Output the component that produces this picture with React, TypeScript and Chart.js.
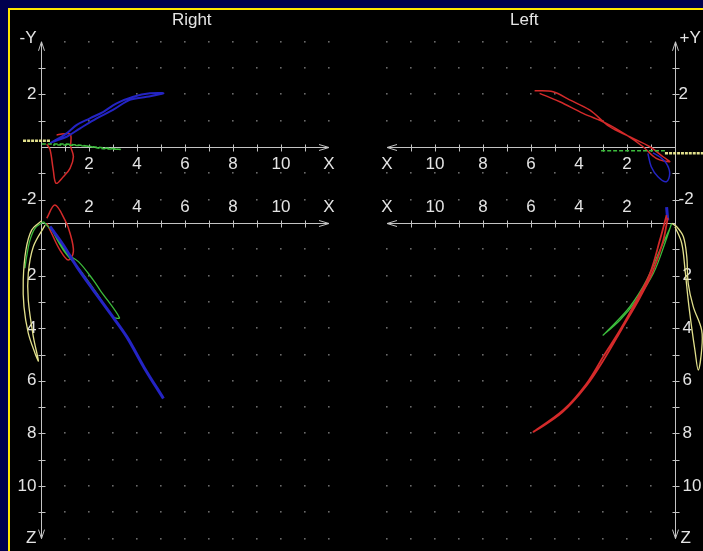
import React, { useEffect, useRef } from "react";
import { Chart, registerables } from "chart.js";

Chart.register(...registerables);

// ---------------- data (sub-plot units) ----------------
// Right side, front view (X horizontal, Y vertical)
const R_XY_BLUE = [[0.38,0.14],[1.07,0.52],[1.49,0.84],[2.04,1.09],[2.6,1.34],[3.15,1.66],[3.85,1.91],[4.54,2.04],[5.1,2.04],[4.4,1.91],[3.7,1.79],[3.0,1.41],[2.32,1.09],[1.63,0.71],[1.07,0.39],[0.51,0.2]];
const R_XY_RED = [[0.65,0.46],[1.21,0.49],[1.24,0.01],[1.35,-0.37],[1.21,-0.81],[0.93,-1.13],[0.63,-1.38],[0.51,-0.87],[0.38,-0.11],[0.24,0.11]];
const R_XY_GREEN = [[0.03,0.11],[1.07,0.11],[1.9,0.04],[2.46,-0.05],[3.3,-0.09],[2.5,-0.02],[1.5,0.06],[0.5,0.08]];
const R_XY_YELLOW = [[-0.75,0.24],[0.38,0.24]];
// Right side, top view (X horizontal, Z downward)
const R_XZ_BLUE = [[0.38,0.14],[0.9,0.8],[1.49,1.66],[2.18,2.55],[2.88,3.43],[3.57,4.32],[4.3,5.5],[5.1,6.67]];
const R_XZ_RED = [[0.24,-0.18],[0.58,-0.68],[1.0,-0.11],[1.21,0.39],[1.35,1.09],[1.14,1.41],[0.79,1.03],[0.44,0.39],[0.24,0.01]];
const R_XZ_GREEN = [[0.1,-0.05],[0.6,0.45],[1.07,1.15],[1.56,1.47],[2.18,2.17],[2.46,2.55],[3.27,3.6],[3.0,3.56],[2.32,2.67],[1.63,1.79],[0.93,1.03],[0.38,0.14]];
const R_XZ_GREEN2 = [[0.1,-0.05],[-0.25,0.2],[-0.46,0.65],[-0.6,1.28],[-0.67,1.72]];
const R_XZ_YELLOW = [[0.03,-0.09],[-0.39,0.27],[-0.63,1.03],[-0.74,2.17],[-0.71,3.18],[-0.53,4.19],[-0.25,4.95],[-0.11,5.24],[-0.32,4.32],[-0.53,2.93],[-0.53,1.91],[-0.32,0.9],[0.17,0.08]];
// Left side, front view
const L_XY_RED = [[5.85,2.14],[5.08,2.1],[4.39,1.79],[3.56,1.41],[2.72,0.77],[1.89,0.39],[1.05,0.01],[0.5,-0.37],[0.22,-0.56],[0.78,-0.43],[1.33,0.01],[2.03,0.46],[2.86,0.9],[3.83,1.28],[4.8,1.72],[5.64,2.04]];
const L_XY_BLUE = [[1.13,-0.24],[0.99,-0.75],[0.71,-1.13],[0.36,-1.32],[0.22,-1.0],[0.36,-0.62],[0.64,-0.37],[0.92,-0.22]];
const L_XY_GREEN = [[3.08,-0.14],[0.42,-0.14]];
const L_XY_YELLOW = [[0.42,-0.24],[-1.25,-0.24]];
// Left side, top view
const L_XZ_RED = [[0.35,-0.3],[0.63,0.65],[1.04,1.91],[1.6,2.93],[2.29,4.07],[2.99,5.08],[3.68,6.1],[4.65,7.11],[5.9,7.94],[4.7,7.2],[3.7,6.2],[2.9,5.1],[2.2,4.0],[1.5,2.9],[0.95,1.9],[0.5,0.7],[0.3,-0.2]];
const L_XZ_BLUE = [[0.35,-0.6],[0.3,-0.1]];
const L_XZ_GREEN = [[0.14,0.01],[0.42,0.77],[0.9,1.91],[1.6,2.93],[2.29,3.69],[2.99,4.26],[2.78,4.07],[1.88,3.18],[1.18,2.17],[0.63,1.03],[0.21,0.2]];
const L_XZ_YELLOW = [[0.14,0.01],[-0.07,0.14],[-0.35,0.52],[-0.49,1.28],[-0.55,2.29],[-0.76,3.18],[-1.11,4.07],[-1.11,4.83],[-0.97,5.59],[-0.83,4.83],[-0.69,3.94],[-0.55,2.93],[-0.42,1.79],[-0.28,0.77],[0,0.14]];

// tick labels
const X_LABELS = [2, 4, 6, 8, 10];
const Y_LABELS = [2, -2];
const Z_LABELS = [2, 4, 6, 8, 10];
const TITLES = { right: "Right", left: "Left" };

// ---------------- layout ----------------
const W = 693, H = 541;
const UX = 24, UY = 26.3;
const OX_R = 31, OX_L = 665, OY_T = 137, OY_B = 213;
const X_MIN = -OX_R / UX, X_MAX = (W - OX_R) / UX;
const Y_MAX = OY_T / UY, Y_MIN = (OY_T - H) / UY;
const LEFT0 = (OX_L - OX_R) / UX;
const BOT0 = (OY_T - OY_B) / UY;

const RED = "#d42a2a", BLUE = "#2424c4", GREEN = "#3cbc3c", YELLOW = "#e2e08c";
const AXIS = "#c4c4c4", DOT = "#6a6a6a", TEXT = "#e4e4e4";
const FONT = '17px "Liberation Sans", Arial, sans-serif';

type Pt = number[];
const toGlobal = (pts: Pt[], side: "R" | "L", plot: "XY" | "XZ") =>
  pts.map(([a, b]) => ({ x: side === "R" ? a : LEFT0 - a, y: plot === "XY" ? b : BOT0 - b }));

const SERIES: { pts: Pt[]; side: "R" | "L"; plot: "XY" | "XZ"; color: string; width: number; dash?: number[] }[] = [
  { pts: R_XY_GREEN, side: "R", plot: "XY", color: GREEN, width: 1.5, dash: [4, 2] },
  { pts: R_XY_YELLOW, side: "R", plot: "XY", color: YELLOW, width: 2.5, dash: [3, 1] },
  { pts: R_XY_BLUE, side: "R", plot: "XY", color: BLUE, width: 2 },
  { pts: R_XY_RED, side: "R", plot: "XY", color: RED, width: 1.5 },
  { pts: R_XZ_BLUE, side: "R", plot: "XZ", color: BLUE, width: 3 },
  { pts: R_XZ_YELLOW, side: "R", plot: "XZ", color: YELLOW, width: 1.3 },
  { pts: R_XZ_GREEN2, side: "R", plot: "XZ", color: GREEN, width: 1.3 },
  { pts: R_XZ_GREEN, side: "R", plot: "XZ", color: GREEN, width: 1.3 },
  { pts: R_XZ_RED, side: "R", plot: "XZ", color: RED, width: 1.5 },
  { pts: L_XY_GREEN, side: "L", plot: "XY", color: GREEN, width: 1.5, dash: [4, 2] },
  { pts: L_XY_YELLOW, side: "L", plot: "XY", color: YELLOW, width: 2.5, dash: [3, 1] },
  { pts: L_XY_BLUE, side: "L", plot: "XY", color: BLUE, width: 1.5 },
  { pts: L_XY_RED, side: "L", plot: "XY", color: RED, width: 1.5 },
  { pts: L_XZ_YELLOW, side: "L", plot: "XZ", color: YELLOW, width: 1.3 },
  { pts: L_XZ_RED, side: "L", plot: "XZ", color: RED, width: 1.8 },
  { pts: L_XZ_GREEN, side: "L", plot: "XZ", color: GREEN, width: 1.3 },
  { pts: L_XZ_BLUE, side: "L", plot: "XZ", color: BLUE, width: 3 },
];

const axesPlugin = {
  id: "panelAxes",
  beforeDraw(chart: any) {
    const ctx = chart.ctx as CanvasRenderingContext2D;
    ctx.save();
    ctx.fillStyle = "#000";
    ctx.fillRect(0, 0, chart.width, chart.height);
    ctx.restore();
  },
  beforeDatasetsDraw(chart: any) {
    const ctx = chart.ctx as CanvasRenderingContext2D;
    const xs = chart.scales.x, ys = chart.scales.y;
    const px = (v: number) => xs.getPixelForValue(v);
    const py = (v: number) => ys.getPixelForValue(v);
    const crisp = (v: number) => Math.round(v) + 0.5;
    ctx.save();
    for (const side of ["R", "L"]) {
      const dir = side === "R" ? 1 : -1;
      const o = side === "R" ? 0 : LEFT0;
      const gx = (u: number) => o + dir * u;
      const ax = crisp(px(o));
      ctx.fillStyle = DOT;
      const rows: number[] = [4, 3, 2, 1, -1, -2];
      for (let k = 1; k <= 12; k++) rows.push(BOT0 - k);
      for (let i = 1; i <= 12; i++) {
        const x = Math.round(px(gx(i)));
        for (const r of rows) {
          const y = Math.round(py(r));
          ctx.fillRect(x - 1, y - 1, 1.6, 1.6);
        }
      }
      ctx.strokeStyle = AXIS;
      ctx.lineWidth = 1;
      ctx.beginPath();
      const yTop = py(4), yBot = py(BOT0 - 12);
      ctx.moveTo(ax, yTop);
      ctx.lineTo(ax, yBot);
      ctx.moveTo(ax - 3, yTop + 9); ctx.lineTo(ax, yTop); ctx.lineTo(ax + 3, yTop + 9);
      ctx.moveTo(ax - 3, yBot - 9); ctx.lineTo(ax, yBot); ctx.lineTo(ax + 3, yBot - 9);
      for (const r of [3, 2, 1, -1, -2]) {
        const y = crisp(py(r));
        ctx.moveTo(ax - 3, y); ctx.lineTo(ax + 4, y);
      }
      for (let k = 1; k <= 11; k++) {
        const y = crisp(py(BOT0 - k));
        ctx.moveTo(ax - 3, y); ctx.lineTo(ax + 4, y);
      }
      for (const base of [0, BOT0]) {
        const y = crisp(py(base));
        const tip = px(gx(12));
        ctx.moveTo(ax, y); ctx.lineTo(tip, y);
        ctx.moveTo(tip - dir * 10, y - 3); ctx.lineTo(tip, y); ctx.lineTo(tip - dir * 10, y + 3);
        for (let i = 1; i <= 11; i++) {
          const x = crisp(px(gx(i)));
          ctx.moveTo(x, y - 3); ctx.lineTo(x, y + 4);
        }
      }
      ctx.stroke();

      ctx.fillStyle = TEXT;
      ctx.font = FONT;
      ctx.textBaseline = "middle";
      ctx.textAlign = "center";
      const yTopLab = py(0) + 17, yBotLab = py(BOT0) - 16;
      for (const v of X_LABELS) {
        ctx.fillText(String(v), px(gx(v)), yTopLab);
        ctx.fillText(String(v), px(gx(v)), yBotLab);
      }
      ctx.fillText("X", px(gx(12)), yTopLab);
      ctx.fillText("X", px(gx(12)), yBotLab);
      ctx.fillText(side === "R" ? TITLES.right : TITLES.left, px(gx(6.28)), 10);

      ctx.textAlign = side === "R" ? "right" : "left";
      const lx = side === "R" ? ax - 5 : ax + 3;
      for (const v of Y_LABELS) ctx.fillText(String(v), lx, py(v));
      ctx.fillText(side === "R" ? "-Y" : "+Y", side === "R" ? lx : lx + 1, py(4) - 3);
      for (const v of Z_LABELS) ctx.fillText(String(v), side === "R" ? lx : lx + 4, py(BOT0 - v));
      ctx.fillText("Z", side === "R" ? lx : lx + 2, py(BOT0 - 12));
    }
    ctx.restore();
  },
};

export default function App() {
  const ref = useRef<HTMLCanvasElement>(null);
  useEffect(() => {
    document.documentElement.style.overflow = "hidden";
    document.body.style.background = "#00004e";
    const chart = new Chart(ref.current as HTMLCanvasElement, {
      type: "scatter",
      data: {
        datasets: SERIES.map((s) => ({
          data: toGlobal(s.pts, s.side, s.plot),
          showLine: true,
          borderColor: s.color,
          backgroundColor: s.color,
          borderWidth: s.width,
          borderDash: s.dash || [],
          pointRadius: 0,
          tension: 0.35,
          fill: false,
        })),
      },
      options: {
        responsive: false,
        animation: false,
        devicePixelRatio: 1,
        layout: { padding: 0 },
        plugins: { legend: { display: false }, tooltip: { enabled: false }, title: { display: false } },
        scales: {
          x: { type: "linear", min: X_MIN, max: X_MAX, display: false },
          y: { type: "linear", min: Y_MIN, max: Y_MAX, display: false },
        },
      },
      plugins: [axesPlugin],
    });
    return () => chart.destroy();
  }, []);
  return (
    <div
      style={{
        position: "fixed",
        left: 8,
        top: 8,
        width: 2 + W,
        height: 2 + H,
        boxSizing: "border-box",
        borderTop: "2px solid #ffe600",
        borderLeft: "2px solid #ffe600",
        background: "#000",
        overflow: "hidden",
      }}
    >
      <canvas ref={ref} width={W} height={H} style={{ display: "block", width: W, height: H }} />
    </div>
  );
}
